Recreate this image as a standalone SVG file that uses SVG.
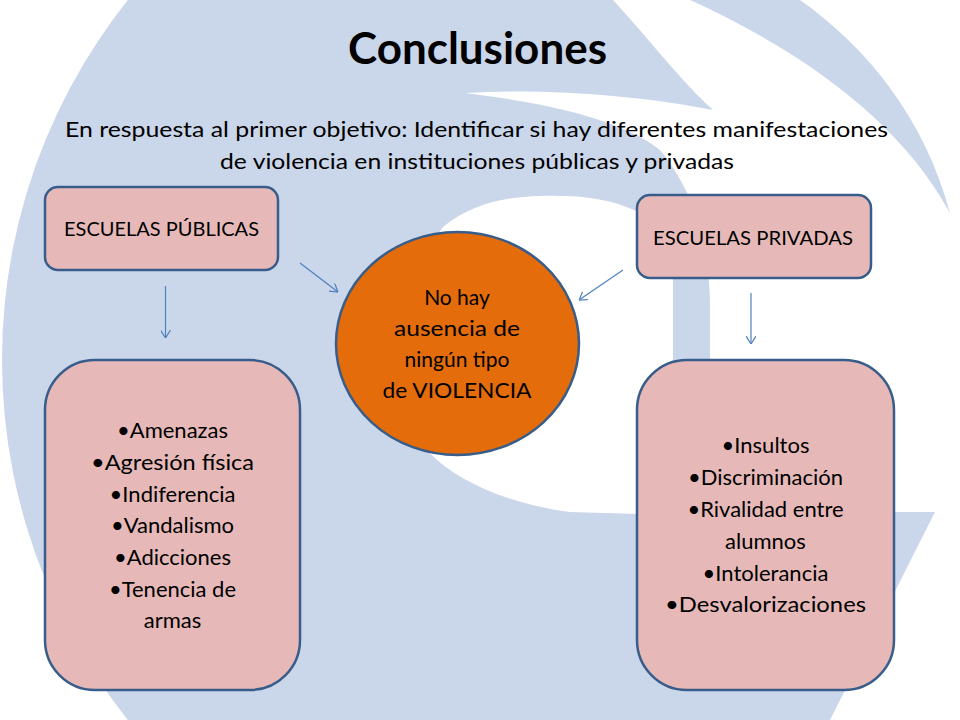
<svg xmlns="http://www.w3.org/2000/svg" width="960" height="720" viewBox="0 0 960 720">
  <defs>
    <style>
      .bg { fill: #CAD6EA; }
      .wh { fill: #FFFFFF; }
      .box { fill: #E6B9B8; stroke: #385D8A; stroke-width: 2.5; }
      .oval { fill: #E46C0A; stroke: #385D8A; stroke-width: 2.5; }
      .conn { stroke: #4F81BD; stroke-width: 1.2; fill: none; }
      text { font-family: Lato, "Liberation Sans", Arial, sans-serif; fill: #000000; text-anchor: middle; }
      .title { font-size: 44px; font-weight: bold; }
      .sub { font-size: 22px; }
      .lbl { font-size: 19px; }
      .mid { font-size: 21px; }
      .lst { font-size: 22px; }
    </style>
    <marker id="arr" viewBox="0 0 8 10" refX="8" refY="5" markerWidth="8" markerHeight="10" markerUnits="userSpaceOnUse" orient="auto">
      <path d="M0,0 L8,5 L0,10" fill="none" stroke="#4F81BD" stroke-width="1.2"/>
    </marker>
  </defs>

  <g id="background">
    <rect x="0" y="0" width="960" height="720" fill="#FFFFFF"/>
    <circle class="bg" cx="580" cy="360" r="578"/>
    <!-- white crescent around the oval -->
    <path class="wh" d="M443,227 C470,205 500,197 540,196 C600,194 650,205 673,245 L673,515 L570,512 C510,505 455,480 430,453 C400,400 395,290 443,227 Z"/>
    <!-- white region top-right / right -->
    <path class="wh" d="M465,93 C540,88 640,95 713,110 C680,80 650,40 613,0 L690,0 C800,50 900,120 950,213 L960,213 L960,720 L830,720 L935,512 L710,512 L710,300 C708,250 700,200 660,150 C620,118 540,102 465,93 Z"/>
    <!-- top-right corner white -->
    <path class="wh" d="M800,0 C870,50 925,120 950,213 L960,213 L960,0 Z"/>
  </g>

  <g id="title">
    <text class="title" x="477.5" y="64" textLength="259" lengthAdjust="spacingAndGlyphs">Conclusiones</text>
  </g>
  <g id="subtitle">
    <text class="sub" x="476.5" y="137" textLength="823" lengthAdjust="spacingAndGlyphs">En respuesta al primer objetivo: Identificar si hay diferentes manifestaciones</text>
    <text class="sub" x="477" y="169" textLength="514" lengthAdjust="spacingAndGlyphs">de violencia en instituciones públicas y privadas</text>
  </g>

  <g id="connectors">
    <line class="conn" x1="165.5" y1="286" x2="165.5" y2="338" marker-end="url(#arr)"/>
    <line class="conn" x1="300" y1="263" x2="338" y2="292" marker-end="url(#arr)"/>
    <line class="conn" x1="623" y1="270" x2="579" y2="300" marker-end="url(#arr)"/>
    <line class="conn" x1="751" y1="293" x2="751" y2="344" marker-end="url(#arr)"/>
  </g>

  <g id="node-publicas">
    <rect class="box" x="45" y="187" width="233" height="83" rx="13" ry="13"/>
    <text class="lbl" x="161.5" y="236" textLength="195" lengthAdjust="spacingAndGlyphs">ESCUELAS PÚBLICAS</text>
  </g>

  <g id="node-privadas">
    <rect class="box" x="637" y="195" width="234" height="83" rx="13" ry="13"/>
    <text class="lbl" x="753" y="245" textLength="200" lengthAdjust="spacingAndGlyphs">ESCUELAS PRIVADAS</text>
  </g>

  <g id="node-violencia">
    <ellipse class="oval" cx="457.5" cy="343.5" rx="121.5" ry="111.5"/>
    <text class="mid" x="457" y="305">No hay</text>
    <text class="mid" x="457" y="336" textLength="126" lengthAdjust="spacingAndGlyphs">ausencia de</text>
    <text class="mid" x="457" y="367">ningún tipo</text>
    <text class="mid" x="457" y="398" textLength="149" lengthAdjust="spacingAndGlyphs">de VIOLENCIA</text>
  </g>

  <g id="node-lista-publicas">
    <rect class="box" x="45" y="360" width="255" height="330" rx="50" ry="50"/>
    <text class="lst" x="172.5" y="438">•Amenazas</text>
    <text class="lst" x="172.5" y="470" textLength="163" lengthAdjust="spacingAndGlyphs">•Agresión física</text>
    <text class="lst" x="172.5" y="502">•Indiferencia</text>
    <text class="lst" x="172.5" y="533">•Vandalismo</text>
    <text class="lst" x="172.5" y="565">•Adicciones</text>
    <text class="lst" x="172.5" y="597">•Tenencia de</text>
    <text class="lst" x="172.5" y="628">armas</text>
  </g>

  <g id="node-lista-privadas">
    <rect class="box" x="637" y="360" width="257" height="330" rx="50" ry="50"/>
    <text class="lst" x="765.5" y="453">•Insultos</text>
    <text class="lst" x="765.5" y="485">•Discriminación</text>
    <text class="lst" x="765.5" y="517">•Rivalidad entre</text>
    <text class="lst" x="765.5" y="549">alumnos</text>
    <text class="lst" x="765.5" y="581">•Intolerancia</text>
    <text class="lst" x="765.5" y="612" textLength="201" lengthAdjust="spacingAndGlyphs">•Desvalorizaciones</text>
  </g>
</svg>
